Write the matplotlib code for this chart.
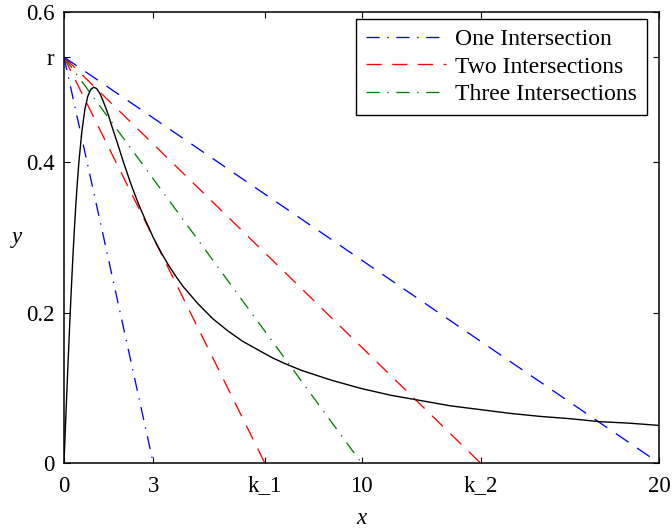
import matplotlib
matplotlib.use("Agg")
import matplotlib.pyplot as plt

plt.rcParams['font.family'] = ['Liberation Serif', 'DejaVu Serif']
plt.rcParams['lines.scale_dashes'] = False

# Response curve sampled along x
curve_x = [0, 0.05, 0.1, 0.15, 0.2, 0.25, 0.3, 0.35, 0.4, 0.45, 0.5, 0.6, 0.7, 0.8,
           0.9, 1.0, 1.1, 1.2, 1.3, 1.4, 1.5, 1.6, 1.8, 2.0, 2.25, 2.5, 2.75, 3.0,
           3.25, 3.5, 3.75, 4.0, 4.5, 5.0, 5.5, 6.0, 6.5, 7.0, 7.5, 8.0, 9.0, 10.0,
           11.0, 12.0, 13.0, 14.0, 15.0, 16.0, 17.0, 18.0, 19.0, 20.0]
curve_y = [0.0, 0.050, 0.099, 0.146, 0.192, 0.235, 0.275, 0.312, 0.345, 0.374,
           0.400, 0.441, 0.470, 0.488, 0.497, 0.500, 0.498, 0.492, 0.483, 0.473,
           0.462, 0.449, 0.425, 0.400, 0.371, 0.345, 0.322, 0.300, 0.281, 0.264,
           0.249, 0.235, 0.212, 0.192, 0.176, 0.162, 0.151, 0.140, 0.131, 0.123,
           0.110, 0.099, 0.090, 0.083, 0.076, 0.071, 0.066, 0.062, 0.059, 0.055,
           0.053, 0.050]

r = 0.54
k_1 = 6.75
k_2 = 14.0

# Straight lines from (0, r) down to each x-intercept
line_ends = [3, k_1, 10, k_2, 20]
line_colors = ['blue', 'red', 'green', 'red', 'blue']
line_kinds = ['dashdot', 'dash', 'dashdot', 'dash', 'dash']
legend_labels = ['One Intersection', 'Two Intersections', 'Three Intersections']

xtick_vals = [0, 3, k_1, 10, k_2, 20]
xtick_labels = ['0', '3', 'k_1', '10', 'k_2', '20']
ytick_vals = [0, 0.2, 0.4, r, 0.6]
ytick_labels = ['0', '0.2', '0.4', 'r', '0.6']

styles = {
    'dash': (0, (11.0, 7.5)),
    'dashdot': (0, (9.5, 5.5, 1.0, 5.5)),
}

W, H = 672, 530
fig = plt.figure(figsize=(W / 100, H / 100), dpi=100)
ax = fig.add_axes([64 / W, 1 - 463 / H, (659 - 64) / W, (463 - 12) / H])

for end, col, kind in zip(line_ends, line_colors, line_kinds):
    ax.plot([0, end], [r, 0], color=col, linestyle=styles[kind], lw=0.95)

ax.plot(curve_x, curve_y, color='black', lw=1.0)

ax.set_xlim(0, 20)
ax.set_ylim(0, 0.6)
ax.set_xticks(xtick_vals)
ax.set_xticklabels(xtick_labels)
ax.set_yticks(ytick_vals)
ax.set_yticklabels(ytick_labels)
ax.tick_params(direction='in', length=4.5, width=0.8, top=True, right=True,
               labelsize=16.5)
ax.tick_params(axis='x', pad=9)
ax.tick_params(axis='y', pad=7)
for s in ax.spines.values():
    s.set_linewidth(1.1)

ax.set_xlabel('x', fontsize=16.5, style='italic', labelpad=8)
ax.set_ylabel('y', fontsize=16.5, style='italic', rotation=0, labelpad=6, va='center')

leg_handles = [
    plt.Line2D([], [], color='blue', linestyle=styles['dashdot'], lw=0.95),
    plt.Line2D([], [], color='red', linestyle=styles['dash'], lw=0.95),
    plt.Line2D([], [], color='green', linestyle=styles['dashdot'], lw=0.95),
]
leg = ax.legend(leg_handles, legend_labels, loc='upper right',
                bbox_to_anchor=(647 / W, 1 - 19 / H), bbox_transform=fig.transFigure,
                fontsize=17, frameon=True, fancybox=False, edgecolor='black',
                framealpha=1, handlelength=3.4, handletextpad=0.38,
                borderpad=0.42, labelspacing=0.24, borderaxespad=0)
leg.get_frame().set_linewidth(1.0)

fig.savefig('out.png', dpi=100)
